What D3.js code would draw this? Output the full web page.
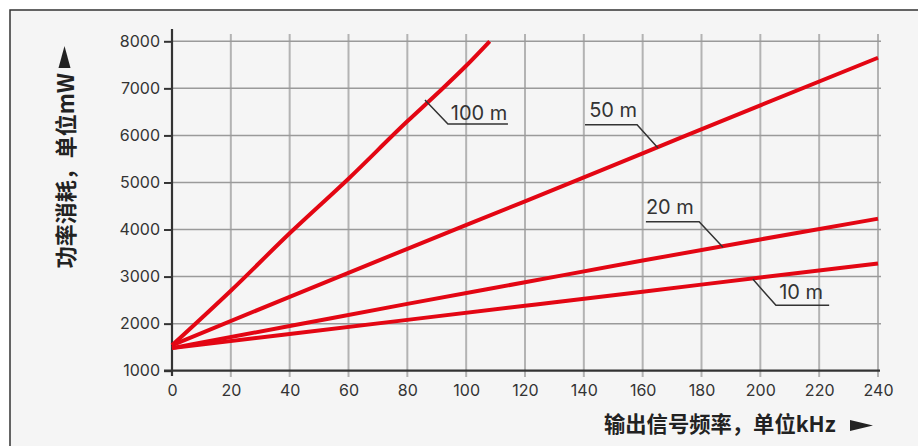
<!DOCTYPE html>
<html><head><meta charset="utf-8">
<script src="https://cdn.jsdelivr.net/npm/d3@7/dist/d3.min.js"></script>
<style>
html,body{margin:0;padding:0;background:#fff;}
svg{display:block;}
</style></head>
<body>
<svg id="chart" width="918" height="446"></svg>
<script>
// ---- data ----
const xTicks = [0,20,40,60,80,100,120,140,160,180,200,220,240];
const yTicks = [1000,2000,3000,4000,5000,6000,7000,8000];
const freq100 = [0,20,40,60,80,90,100,108];
const power100 = [1540,2700,3920,5080,6300,6880,7480,8000];
const freqAll = [0,40,80,120,160,200,240];
const power50 = [1540,2570,3590,4600,5620,6640,7650];
const power20 = [1480,1950,2420,2880,3340,3790,4230];
const power10 = [1480,1780,2080,2380,2680,2980,3280];
const seriesNames = ["100 m","50 m","20 m","10 m"];
const xTitle = "输出信号频率，单位kHz";
const yTitle = "功率消耗，单位mW";
// label callouts (data units)
const callouts = [
  {label:"100 m", pts:[[86,6753],[93.8,6241],[114.2,6241]], tx:94.8, ty:6328},
  {label:"50 m",  pts:[[140.4,6228],[158.1,6228],[165.2,5733]], tx:141.8, ty:6391},
  {label:"20 m",  pts:[[161.1,4167],[179.2,4167],[187.3,3621]], tx:161.1, ty:4330},
  {label:"10 m",  pts:[[197.5,2942],[205.3,2389],[223.4,2389]], tx:206.4, ty:2524}
];

const series = [
  {name:seriesNames[0], xs:freq100, ys:power100},
  {name:seriesNames[1], xs:freqAll, ys:power50},
  {name:seriesNames[2], xs:freqAll, ys:power20},
  {name:seriesNames[3], xs:freqAll, ys:power10}
];

const svg = d3.select("#chart");
const x = d3.scaleLinear().domain([0,240]).range([172,878]);
const y = d3.scaleLinear().domain([1000,8000]).range([370.7,41.3]);

// frame
svg.append("rect").attr("x",10).attr("y",10).attr("width",918).attr("height",446)
  .attr("fill","#f5f5f5").attr("stroke","#333").attr("stroke-width",1.5);

const tickFont = "Inter, 'Liberation Sans', Arial, sans-serif";

// vertical grid
svg.append("g").selectAll("line").data(xTicks.slice(1)).join("line")
  .attr("x1",d=>x(d)).attr("x2",d=>x(d)).attr("y1",34).attr("y2",377)
  .attr("stroke","#b3b3b3").attr("stroke-width",2);
// horizontal grid
svg.append("g").selectAll("line").data(yTicks.slice(1)).join("line")
  .attr("x1",x(0)).attr("x2",881).attr("y1",d=>y(d)).attr("y2",d=>y(d))
  .attr("stroke","#9a9a9a").attr("stroke-width",1.5);

// y axis
const yAxis = d3.axisLeft(y).tickValues(yTicks).tickSize(8).tickPadding(4).tickFormat(d3.format("d"));
const gy = svg.append("g").attr("transform",`translate(${x(0)},0)`).call(yAxis);
gy.select(".domain").remove();
gy.selectAll(".tick line").attr("stroke","#333").attr("stroke-width",2);
gy.selectAll(".tick text").attr("font-family",tickFont).attr("font-size",16).attr("fill","#333");
svg.append("line").attr("x1",x(0)).attr("x2",x(0)).attr("y1",29).attr("y2",376)
  .attr("stroke","#333").attr("stroke-width",2.2);

// x axis
const gx = svg.append("g").attr("transform",`translate(0,${y(1000)})`).call(d3.axisBottom(x).tickValues(xTicks).tickSize(0).tickPadding(14));
gx.select(".domain").remove();
gx.selectAll(".tick text").attr("font-family",tickFont).attr("font-size",16).attr("fill","#333");
svg.append("line").attr("x1",164).attr("x2",880).attr("y1",y(1000)).attr("y2",y(1000))
  .attr("stroke","#333").attr("stroke-width",2.2);

// series
const line = d3.line().x(d=>x(d[0])).y(d=>y(d[1])).curve(d3.curveMonotoneX);
svg.append("g").selectAll("path").data(series).join("path")
  .attr("d",s=>line(s.xs.map((v,i)=>[v,s.ys[i]])))
  .attr("fill","none").attr("stroke","#e30613").attr("stroke-width",4).attr("stroke-linejoin","round");

// callouts
const cg = svg.append("g");
callouts.forEach(c=>{
  cg.append("path").attr("d",d3.line().x(d=>x(d[0])).y(d=>y(d[1]))(c.pts))
    .attr("fill","none").attr("stroke","#333").attr("stroke-width",1.5);
  cg.append("text").attr("x",x(c.tx)).attr("y",y(c.ty)).text(c.label)
    .attr("font-family",tickFont).attr("font-size",20).attr("fill","#333");
});

// titles
const cjk = "'Noto Sans CJK SC', 'Noto Sans', sans-serif";
svg.append("text").attr("x",604).attr("y",432).text(xTitle)
  .attr("font-family",cjk).attr("font-size",21.3).attr("font-weight","bold").attr("fill","#222");
svg.append("path").attr("d","M850,420 L873,425.5 L850,431 Z").attr("fill","#222");

svg.append("text").attr("transform","translate(64,73) rotate(-90)")
  .attr("text-anchor","end").attr("dominant-baseline","central").text(yTitle)
  .attr("font-family",cjk).attr("font-size",22).attr("font-weight","bold").attr("fill","#222");
svg.append("path").attr("d","M58.5,68 L64.5,46 L70.5,68 Z").attr("fill","#222");
</script>
</body></html>
